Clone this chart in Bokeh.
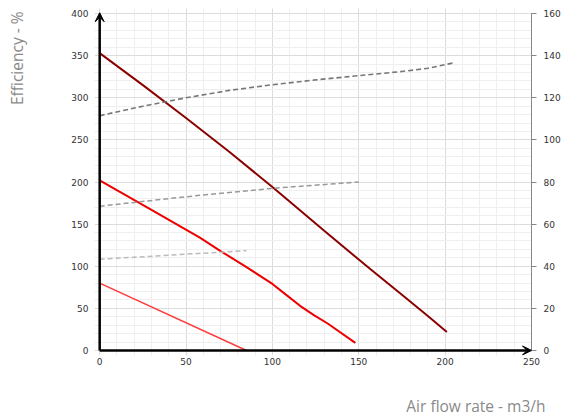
from bokeh.plotting import figure
from bokeh.models import (Range1d, LinearAxis, FixedTicker, Arrow, VeeHead, Title)
from bokeh.embed import file_html
from bokeh.resources import INLINE

# Pressure curves (left axis)
x_dark = [0, 25, 50, 75, 100, 130, 157, 178, 190, 201]
y_dark = [353, 315, 276, 236, 194, 142, 96, 61, 41, 22]
x_red = [0, 30, 58, 70, 85, 100, 108, 116, 124, 132, 148]
y_red = [202, 167, 134, 118, 99, 79, 66, 53, 42, 32, 9]
x_light = [0, 85]
y_light = [80, 0]

# Efficiency curves (right axis, %)
x_eff1 = [0, 25, 50, 75, 100, 125, 150, 175, 190, 205]
y_eff1 = [111.5, 116, 120, 123.5, 126.2, 128.5, 130.5, 132.5, 134, 136.6]
x_eff2 = [0, 50, 100, 150]
y_eff2 = [68.5, 73, 77, 80]
x_eff3 = [0, 85]
y_eff3 = [43.3, 47.4]

left_ticks = [0, 50, 100, 150, 200, 250, 300, 350, 400]
right_ticks = [0, 20, 40, 60, 80, 100, 120, 140, 160]
x_ticks = [0, 50, 100, 150, 200, 250]

X_MAX, Y_MAX, R_MAX = 250, 400, 160
FONT = "DejaVu Sans"

p = figure(frame_width=437, frame_height=347, output_backend="svg", toolbar_location=None,
           x_range=Range1d(-3, X_MAX), y_range=Range1d(-6, 406),
           min_border_left=94, min_border_right=41, min_border_top=8, min_border_bottom=64)
p.outline_line_color = None
p.background_fill_color = "white"
p.extra_y_ranges = {"right": Range1d(-6 * R_MAX / Y_MAX, 406 * R_MAX / Y_MAX)}

# grid
p.xgrid.grid_line_color = "#dcdcdc"
p.ygrid.grid_line_color = "#dcdcdc"
p.xgrid.minor_grid_line_color = "#efefef"
p.ygrid.minor_grid_line_color = "#efefef"
p.xgrid.bounds = (0, X_MAX)
p.ygrid.bounds = (0, Y_MAX)

for ax in (p.xaxis[0], p.yaxis[0]):
    ax.axis_line_color = None
    ax.major_tick_line_color = None
    ax.minor_tick_line_color = None
    ax.major_tick_out = 0
    ax.major_tick_in = 0
    ax.minor_tick_out = 0
    ax.major_label_text_font = FONT
    ax.major_label_text_font_size = "9px"
    ax.major_label_text_color = "#333333"

p.xaxis[0].ticker = FixedTicker(ticks=x_ticks, minor_ticks=list(range(0, 251, 10)))
p.yaxis[0].ticker = FixedTicker(ticks=left_ticks, minor_ticks=list(range(0, 401, 10)))
p.xaxis[0].major_label_standoff = 2
p.yaxis[0].major_label_standoff = 6

ra = LinearAxis(y_range_name="right", ticker=FixedTicker(ticks=right_ticks), bounds=(0, R_MAX))
ra.axis_line_color = "#888888"
ra.axis_line_width = 1
ra.major_tick_line_color = "#888888"
ra.major_tick_out = 5
ra.major_tick_in = 0
ra.minor_tick_line_color = None
ra.major_label_text_font = FONT
ra.major_label_text_font_size = "9px"
ra.major_label_text_color = "#333333"
ra.major_label_standoff = 7
p.add_layout(ra, "right")

# curves
p.line(x_dark, y_dark, line_color="#8b0000", line_width=2)
p.line(x_red, y_red, line_color="#ee0000", line_width=2)
p.line(x_light, y_light, line_color="#ff3b3b", line_width=1.5)

p.line(x_eff1, y_eff1, y_range_name="right", line_color="#777777", line_width=1.6, line_dash="5 3")
p.line(x_eff2, y_eff2, y_range_name="right", line_color="#999999", line_width=1.5, line_dash="5 3")
p.line(x_eff3, y_eff3, y_range_name="right", line_color="#bbbbbb", line_width=1.5, line_dash="5 3")

# axis lines with arrowheads
p.add_layout(Arrow(x_start=0, y_start=0, x_end=0, y_end=Y_MAX + 1, line_width=2.5, line_color="black",
                   end=VeeHead(size=9, line_color="black", fill_color="black", line_width=1)))
p.add_layout(Arrow(x_start=0, y_start=0, x_end=X_MAX, y_end=0, line_width=2.5, line_color="black",
                   end=VeeHead(size=9, line_color="black", fill_color="black", line_width=1)))

# spacers (blank titles) between axes and axis titles
p.add_layout(Title(text=" ", text_font_size="1px", standoff=15), "below")
p.add_layout(Title(text=" ", text_font_size="1px", standoff=34), "left")

# axis titles
p.add_layout(Title(text="Air flow rate - m3/h", align="right", offset=-14, standoff=14,
                   text_font="Open Sans", text_font_size="15.5px", text_font_style="normal",
                   text_color="#8a8a8a"), "below")
p.add_layout(Title(text="Efficiency - %", align="right", offset=3, standoff=7,
                   text_font="Open Sans", text_font_size="15.5px", text_font_style="normal",
                   text_color="#8a8a8a"), "left")

open("out.html", "w").write(file_html(p, INLINE))
